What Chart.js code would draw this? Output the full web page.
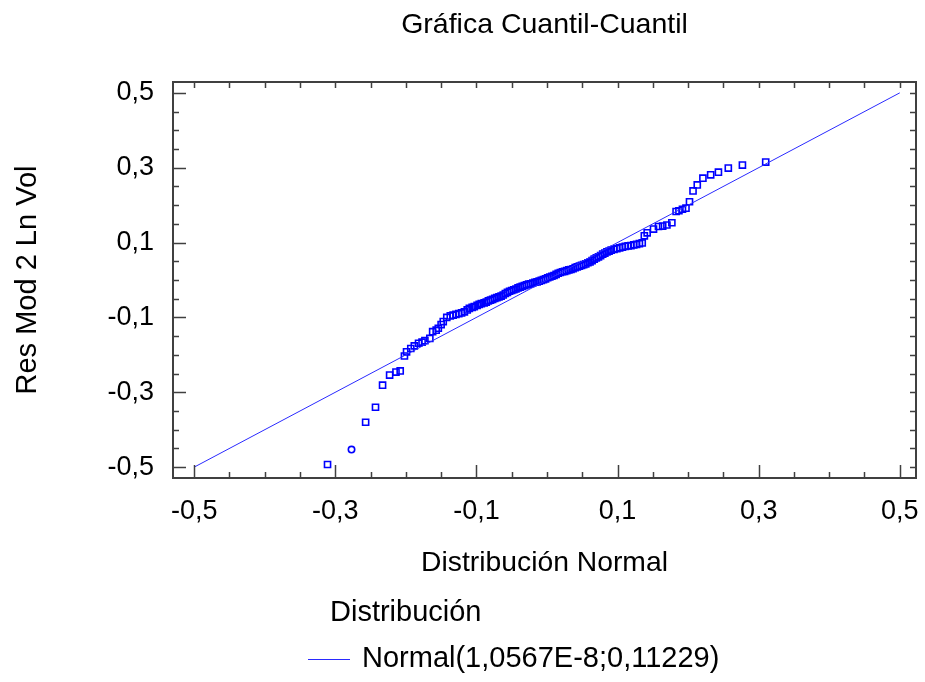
<!DOCTYPE html>
<html>
<head>
<meta charset="utf-8">
<script src="https://cdn.jsdelivr.net/npm/chart.js@4/dist/chart.umd.min.js"></script>
<style>
  html, body { margin: 0; padding: 0; background: #fff; }
  #wrap { width: 925px; height: 682px; }
</style>
</head>
<body>
<div id="wrap"><canvas id="qq" width="925" height="682"></canvas></div>
<script>
// Gráfica Cuantil-Cuantil: residuos contra cuantiles de la normal

var chartTitle = 'Gráfica Cuantil-Cuantil';
var xTitle = 'Distribución Normal';
var yTitle = 'Res Mod 2 Ln Vol';
var legendTitle = 'Distribución';
var fitLabel = 'Normal(1,0567E-8;0,11229)';

// tick labels and tick marks (same for both axes)
var labelValues = [-0.5, -0.3, -0.1, 0.1, 0.3, 0.5];
var tickValues = [-0.5, -0.45, -0.4, -0.35, -0.3, -0.25, -0.2, -0.15, -0.1, -0.05, 0,
                  0.05, 0.1, 0.15, 0.2, 0.25, 0.3, 0.35, 0.4, 0.45, 0.5];

// reference line of the fitted normal
var lineX = [-0.5, 0.5];
var lineY = [-0.5, 0.5];

// quantiles (square markers)
var qx = [
  -0.311, -0.257, -0.243, -0.233, -0.223, -0.214, -0.208, -0.202, -0.199, -0.193,
  -0.188, -0.182, -0.177, -0.173, -0.166, -0.162, -0.157, -0.154, -0.150, -0.147,
  -0.142, -0.137, -0.133, -0.129, -0.125, -0.121, -0.117, -0.113, -0.110, -0.106,
  -0.103, -0.099, -0.096, -0.093, -0.089, -0.086, -0.083, -0.080, -0.077, -0.074,
  -0.071, -0.068, -0.065, -0.062, -0.059, -0.056, -0.053, -0.050, -0.047, -0.044,
  -0.041, -0.038, -0.035, -0.032, -0.029, -0.026, -0.023, -0.020, -0.017, -0.014,
  -0.011, -0.008, -0.005, -0.002, 0.001, 0.004, 0.007, 0.010, 0.013, 0.016,
  0.019, 0.022, 0.025, 0.028, 0.031, 0.034, 0.037, 0.040, 0.043, 0.046,
  0.049, 0.052, 0.055, 0.058, 0.061, 0.064, 0.067, 0.070, 0.073, 0.076,
  0.079, 0.082, 0.085, 0.088, 0.091, 0.095, 0.099, 0.103, 0.107, 0.111,
  0.115, 0.119, 0.123, 0.127, 0.131, 0.135, 0.138, 0.142, 0.151, 0.158,
  0.164, 0.170, 0.177, 0.183, 0.187, 0.192, 0.197, 0.202, 0.207, 0.213,
  0.221, 0.232, 0.243, 0.257, 0.277, 0.310
];
var qy = [
  -0.493, -0.380, -0.340, -0.281, -0.254, -0.246, -0.243, -0.203, -0.192, -0.183,
  -0.176, -0.169, -0.166, -0.162, -0.156, -0.138, -0.134, -0.129, -0.119, -0.111,
  -0.100, -0.096, -0.094, -0.092, -0.090, -0.088, -0.085, -0.080, -0.076, -0.073,
  -0.071, -0.068, -0.065, -0.063, -0.061, -0.059, -0.056, -0.054, -0.052, -0.049,
  -0.047, -0.045, -0.043, -0.040, -0.036, -0.033, -0.030, -0.028, -0.026, -0.024,
  -0.021, -0.019, -0.017, -0.015, -0.013, -0.011, -0.010, -0.008, -0.006, -0.005,
  -0.003, -0.001, 0.001, 0.003, 0.006, 0.008, 0.010, 0.012, 0.015, 0.018,
  0.020, 0.022, 0.023, 0.025, 0.027, 0.028, 0.030, 0.033, 0.035, 0.037,
  0.039, 0.041, 0.043, 0.046, 0.048, 0.052, 0.056, 0.059, 0.062, 0.065,
  0.069, 0.072, 0.075, 0.077, 0.080, 0.082, 0.084, 0.086, 0.088, 0.090,
  0.091, 0.092, 0.094, 0.095, 0.097, 0.099, 0.118, 0.126, 0.136, 0.143,
  0.144, 0.147, 0.153, 0.183, 0.185, 0.189, 0.192, 0.209, 0.238, 0.254,
  0.272, 0.281, 0.288, 0.299, 0.307, 0.315
];

// one point drawn with a circle marker
var circX = [-0.277];
var circY = [-0.453];

var FAMILY = "'Liberation Sans', Arial, sans-serif";
var BLUE = '#0000ff';

function toPoints(xs, ys) {
  return xs.map(function (v, i) { return { x: v, y: ys[i] }; });
}

function fmt(v) {
  return v.toFixed(1).replace('.', ',');
}

function isLabel(v) {
  return labelValues.some(function (l) { return Math.abs(l - v) < 1e-9; });
}

// frame + inward tick marks like the original program
var frameTicks = {
  id: 'frameTicks',
  afterDraw: function (chart) {
    var ctx = chart.ctx;
    var a = chart.chartArea;
    var x = chart.scales.x, y = chart.scales.y;
    ctx.save();
    ctx.strokeStyle = '#404040';
    ctx.lineWidth = 1.5;
    ctx.beginPath();
    tickValues.forEach(function (v) {
      var px = Math.round(x.getPixelForValue(v)) + 0.5;
      var py = Math.round(y.getPixelForValue(v)) + 0.5;
      var len = isLabel(v) ? 13 : 6;
      ctx.moveTo(px, a.bottom); ctx.lineTo(px, a.bottom - len);
      ctx.moveTo(px, a.top); ctx.lineTo(px, a.top + 6);
      ctx.moveTo(a.left, py); ctx.lineTo(a.left + len, py);
      ctx.moveTo(a.right, py); ctx.lineTo(a.right - 6, py);
    });
    ctx.stroke();
    ctx.lineWidth = 2;
    ctx.strokeRect(a.left, a.top, a.right - a.left, a.bottom - a.top);
    ctx.restore();
  }
};

// legend block under the x axis
var qqLegend = {
  id: 'qqLegend',
  afterDraw: function (chart) {
    var ctx = chart.ctx;
    var base = chart.scales.x.bottom;
    var ds = chart.data.datasets[0];
    ctx.save();
    ctx.font = '29px ' + FAMILY;
    ctx.fillStyle = '#000';
    ctx.textBaseline = 'middle';
    ctx.fillText(legendTitle, 330, base + 29);
    ctx.strokeStyle = ds.borderColor;
    ctx.lineWidth = 1;
    ctx.beginPath();
    ctx.moveTo(308, base + 75.5);
    ctx.lineTo(350, base + 75.5);
    ctx.stroke();
    ctx.fillText(ds.label, 362, base + 75);
    ctx.restore();
  }
};

var ctx = document.getElementById('qq').getContext('2d');
new Chart(ctx, {
  type: 'scatter',
  data: {
    datasets: [
      {
        type: 'line',
        label: fitLabel,
        data: toPoints(lineX, lineY),
        borderColor: '#2a2aff',
        borderWidth: 1,
        pointRadius: 0,
        fill: false
      },
      {
        label: 'Residuos',
        data: toPoints(qx, qy),
        pointStyle: 'rect',
        pointRadius: 4.3,
        borderColor: BLUE,
        backgroundColor: 'rgba(0,0,0,0)',
        borderWidth: 1.6
      },
      {
        label: 'Residuo (círculo)',
        data: toPoints(circX, circY),
        pointStyle: 'circle',
        pointRadius: 3.2,
        borderColor: BLUE,
        backgroundColor: 'rgba(0,0,0,0)',
        borderWidth: 1.6
      }
    ]
  },
  options: {
    responsive: false,
    animation: false,
    layout: { padding: { left: 7, right: 9, top: 0, bottom: 98 } },
    plugins: {
      legend: { display: false },
      tooltip: { enabled: false },
      title: {
        display: true,
        text: chartTitle,
        fullSize: false,
        color: '#000',
        font: { family: FAMILY, size: 28.5, weight: 'normal', lineHeight: 1.2 },
        padding: { top: 8, bottom: 39.8 }
      }
    },
    scales: {
      x: {
        type: 'linear',
        min: -0.53,
        max: 0.523,
        afterBuildTicks: function (s) { s.ticks = labelValues.map(function (v) { return { value: v }; }); },
        afterFit: function (s) { s.height = 106; s.paddingLeft = 0; s.paddingRight = 0; },
        grid: { display: false, drawTicks: false },
        border: { display: false },
        ticks: {
          color: '#000',
          padding: 17,
          maxRotation: 0,
          font: { family: FAMILY, size: 27 },
          callback: function (v) { return fmt(v); }
        },
        title: {
          display: true,
          text: xTitle,
          color: '#000',
          font: { family: FAMILY, size: 28.3, lineHeight: 1.2 },
          padding: { top: 4, bottom: 4 }
        }
      },
      y: {
        type: 'linear',
        min: -0.529,
        max: 0.529,
        afterBuildTicks: function (s) { s.ticks = labelValues.map(function (v) { return { value: v }; }); },
        afterFit: function (s) { s.width = 166; },
        grid: { display: false, drawTicks: false },
        border: { display: false },
        ticks: {
          color: '#000',
          padding: 19,
          font: { family: FAMILY, size: 27 },
          callback: function (v) { return fmt(v); }
        },
        title: {
          display: true,
          text: yTitle,
          color: '#000',
          font: { family: FAMILY, size: 29, lineHeight: 1.2 },
          padding: { top: 4, bottom: 4 }
        }
      }
    }
  },
  plugins: [frameTicks, qqLegend]
});
</script>
</body>
</html>
